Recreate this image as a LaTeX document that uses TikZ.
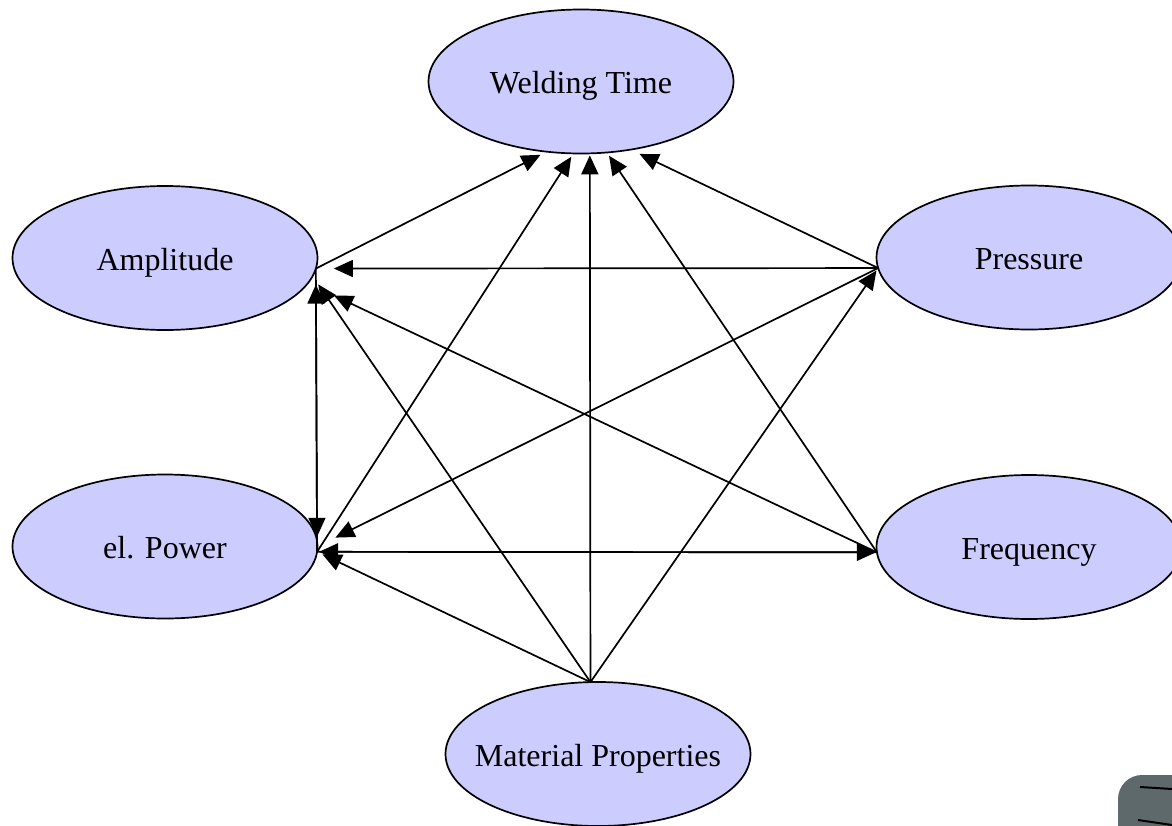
\documentclass[tikz,border=0pt]{standalone}
\usepackage{fontspec}
\setmainfont{Liberation Serif}
\usetikzlibrary{shapes.geometric,arrows.meta}
\definecolor{rgbperiwinkle}{rgb}{0.8,0.8,1}
\definecolor{rgbslate}{rgb}{0.37,0.41,0.42}
\begin{document}
\begin{tikzpicture}[x=0.5pt, y=-0.5pt,
		factor/.style={ellipse, draw, line width=0.85pt, fill=rgbperiwinkle,
			minimum width=152.5pt, minimum height=72pt, inner sep=0pt, outer sep=0pt,
			text height=12pt, text depth=0pt, font=\fontsize{16}{19}\selectfont},
		infl/.style={line width=0.85pt, -{Triangle[length=9.5pt, width=8.5pt]}}]
			\useasboundingbox (0, 0) rectangle (1172, 825);
			\clip (0, 0) rectangle (1172, 825);
			\node[factor] (wt) at (581, 81.5) {Welding Time};
			\node[factor] (amp) at (165, 258) {Amplitude};
			\node[factor] (pres) at (1029, 257.5) {Pressure};
			\node[factor] (elp) at (165, 546.5) {el. Power};
			\node[factor] (freq) at (1029, 547) {Frequency};
			\node[factor] (mp) at (598, 754) {\makebox[0pt]{Material Properties}};
			% source / target / shorten
			\foreach \s/\t/\k in {amp.-4/wt.-116.5/3.5, elp.-2.5/wt.-96/2, mp.96/wt.-83/1,
					freq.182/wt.-70/2, pres.184/wt.-54/5, pres.184/amp.-4/9,
					elp.-2.5/amp.-4/8, mp.96/amp.-7/5, freq.182/amp.-10/14.5,
					amp.-4/elp.-2.5/7.5, pres.184/elp.0/10, freq.182/elp.-2.5/1,
					mp.96/elp.-2.5/3, mp.96/pres.184/1.5, elp.-2.5/freq.182/0.5}
				\draw[infl, shorten >=\k pt] (\s) -- (\t);
			\fill[rgbslate, rounded corners=12pt] (1118, 775) rectangle (1240, 890);
			\draw[line width=1pt] (1140, 787) -- (1172, 789);
			\draw[line width=1pt] (1138, 820) -- (1172, 825);
		\end{tikzpicture}
\end{document}
